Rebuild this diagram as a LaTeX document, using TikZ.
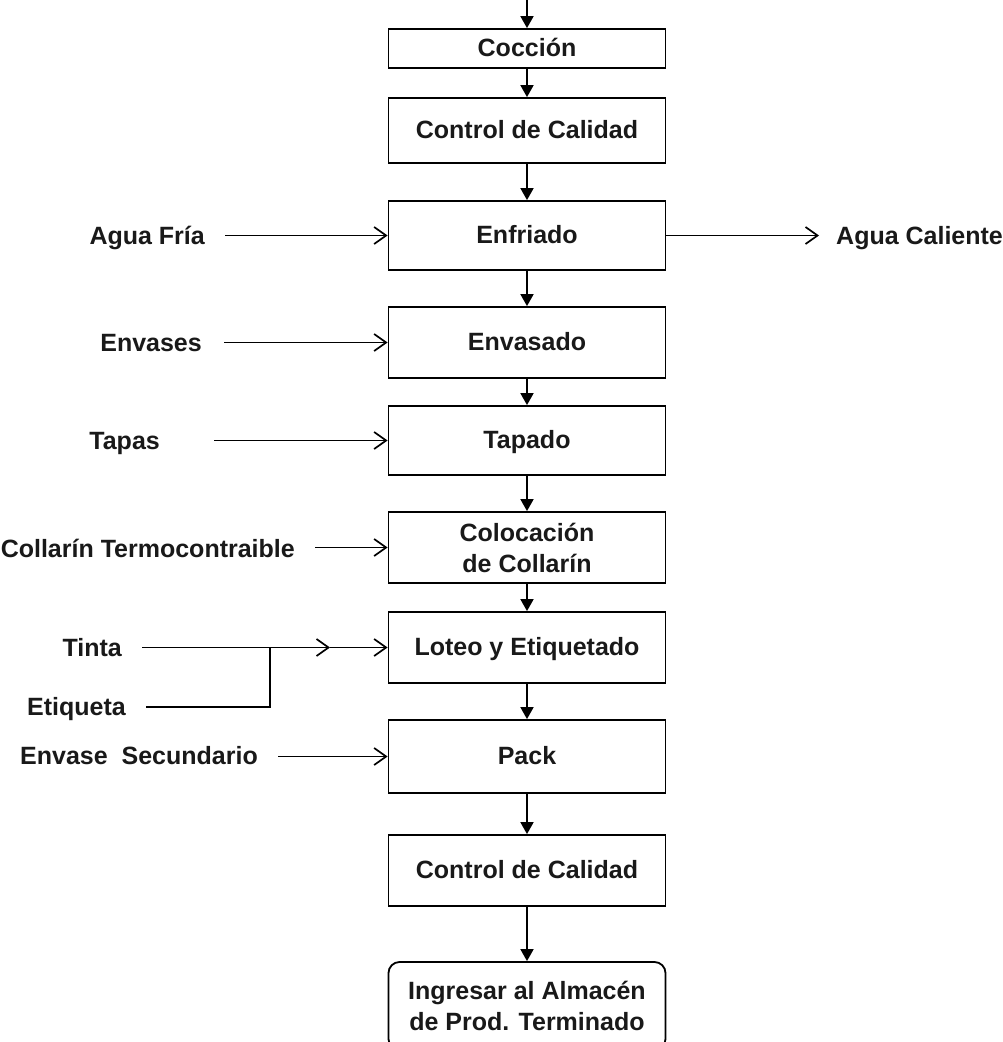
\documentclass[tikz,border=0pt]{standalone}
\usepackage{fontspec}
\setmainfont{Liberation Sans}
\usetikzlibrary{arrows.meta}
\begin{document}
\begin{tikzpicture}[x=1pt,y=-1pt,
  txt/.style={font=\fontsize{25}{31}\selectfont\bfseries, text=black!90},
  proc/.style={txt, draw, line width=1.8pt, minimum width=277pt, inner sep=0pt, align=center},
  one/.style={text height=18pt, text depth=2pt},
  lbl/.style={txt, one, inner sep=0pt, anchor=east},
  flow/.style={line width=1.8pt, -{Triangle[width=13pt,length=12pt]}},
  feed/.style={line width=1.7pt, -{Straight Barb[length=12pt,width=17pt]}},
  plain/.style={line width=1.7pt}]
\useasboundingbox (0,0) rectangle (1002,1042);
\clip (0,0) rectangle (1002,1042);

% process column
\coordinate (start) at (527,-2);
\node[proc, one, minimum height=39pt] (cocc) at (527,48.5) {Cocción};
\node[proc, one, minimum height=65pt] (cc1) at (527,130.5) {Control de Calidad};
\node[proc, one, minimum height=69pt] (enf) at (527,235.5) {Enfriado};
\node[proc, one, minimum height=71pt] (env) at (527,342.5) {Envasado};
\node[proc, one, minimum height=69pt] (tap) at (527,440.5) {Tapado};
\node[proc, minimum height=71pt] (col) at (527,547.5) {Colocación\\de Collarín};
\node[proc, one, minimum height=71pt] (lot) at (527,647.5) {Loteo y Etiquetado};
\node[proc, one, minimum height=73pt] (pack) at (527,756.5) {Pack};
\node[proc, one, minimum height=71pt] (cc2) at (527,870.5) {Control de Calidad};
\node[proc, minimum height=88pt, rounded corners=11pt, text depth=0pt] (ing) at (527,1006) {Ingresar al Almacén\\de Prod. Terminado};

\draw[flow] (start) -- (cocc);
\draw[flow] (cocc) -- (cc1);
\draw[flow] (cc1) -- (enf);
\draw[flow] (enf) -- (env);
\draw[flow] (env) -- (tap);
\draw[flow] (tap) -- (col);
\draw[flow] (col) -- (lot);
\draw[flow] (lot) -- (pack);
\draw[flow] (pack) -- (cc2);
\draw[flow] (cc2) -- (ing);

% inputs and outputs
\node[lbl] (fria) at (205,236) {Agua Fría};
\node[txt, one, inner sep=0pt, anchor=west] (cal) at (836,236) {Agua Caliente};
\node[lbl] (envs) at (202,343) {Envases};
\node[lbl] (tapas) at (160,441) {Tapas};
\node[lbl] (collar) at (295,549) {Collarín Termocontraible};
\node[lbl] (tinta) at (122,648) {Tinta};
\node[lbl] (etiq) at (126,707) {Etiqueta};
\node[lbl] (sec) at (258,756) {Envase\ \ Secundario};

\draw[feed] ([xshift=20pt]fria.east |- enf.west) -- (enf.west);
\draw[feed] (enf.east) -- ([xshift=-17pt]cal.west |- enf.east);
\draw[feed] ([xshift=22pt]envs.east |- env.west) -- (env.west);
\draw[feed] ([xshift=54pt]tapas.east |- tap.west) -- (tap.west);
\draw[feed] ([xshift=20pt]collar.east |- col.west) -- (col.west);

\coordinate (mid) at (330,647.5);
\coordinate (join) at (270,647.5);
\draw[feed] ([xshift=20pt]tinta.east |- lot.west) -- (mid);
\draw[feed] (mid) -- (lot.west);
\draw[plain] ([xshift=20pt]etiq.east) -| (join);

\draw[feed] ([xshift=20pt]sec.east |- pack.west) -- (pack.west);
\end{tikzpicture}
\end{document}
